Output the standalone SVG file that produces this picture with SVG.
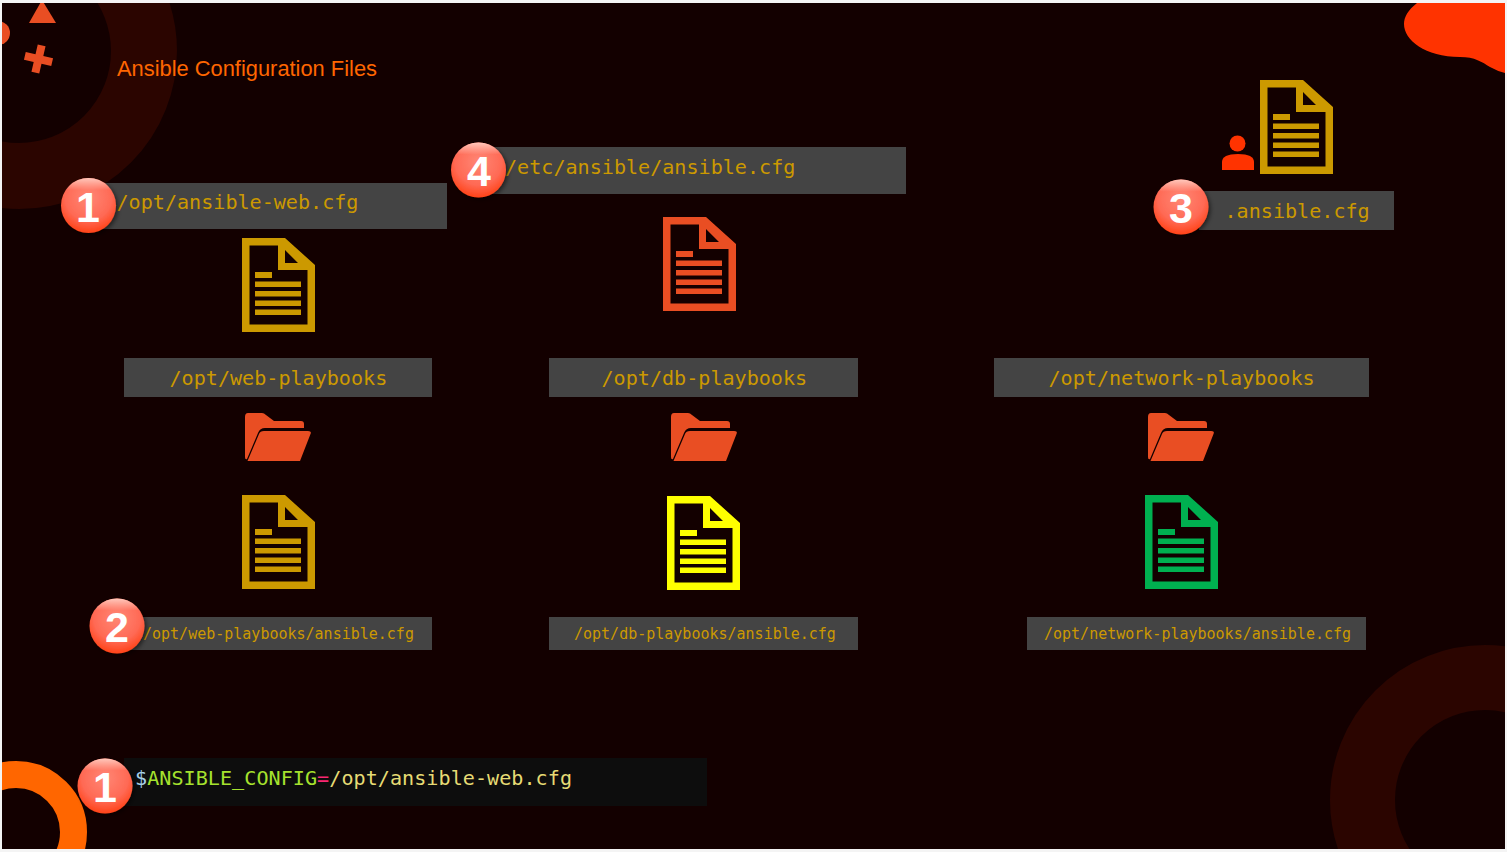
<svg xmlns="http://www.w3.org/2000/svg" width="1507" height="852" viewBox="0 0 1507 852">
<style>
.box{fill:#444444}
.m{font-family:"DejaVu Sans Mono","Liberation Mono",monospace;fill:#cc9900;font-size:20.100px}
.s{font-size:15px}
.num{font-family:"Liberation Sans",Arial,sans-serif;font-weight:700;font-size:43px;fill:#fff;text-anchor:middle}
.red{fill:#e94e23}
</style>
<defs>
<clipPath id="page"><rect x="2" y="3" width="1503" height="846"/></clipPath>
<radialGradient id="bg" cx="50%" cy="35%" r="70%">
<stop offset="0" stop-color="#ff8675"/><stop offset="0.6" stop-color="#ff6a55"/><stop offset="1" stop-color="#ff3a0a"/>
</radialGradient>
<linearGradient id="rim" x1="0" y1="0" x2="0" y2="1">
<stop offset="0" stop-color="#ffc8bc"/><stop offset="0.22" stop-color="#ffc8bc" stop-opacity="0"/>
</linearGradient>
<filter id="sh" x="-30%" y="-30%" width="170%" height="170%"><feDropShadow dx="2" dy="2" stdDeviation="2" flood-color="#000" flood-opacity="0.5"/></filter>
<g id="doc">
<path fill-rule="evenodd" d="M0,0H43L73,27V94H0ZM7.500,7.500V86.500H65.500V32H36V7.500ZM43,12V25H56Z"/>
<path d="M13,34H30V40H13ZM13,43.500H59V49H13ZM13,53H59V58.500H13ZM13,62.500H59V68H13ZM13,71.500H59V77H13Z"/>
</g>
<g id="folder">
<path d="M0,4Q0,0 3,0H17Q19,0 21,2L29,8H56Q59,8 59,11V15H20Q15,15 13,20L2,46Q0,47 0,44Z"/>
<path d="M2.500,48L14,21Q15,18 19,18H63Q67,18 65.500,21L55,48Z"/>
</g>
<g id="badge">
<circle r="27.500" fill="url(#bg)" filter="url(#sh)"/>
<circle r="27.500" fill="url(#rim)"/>
</g>
</defs>
<rect width="1507" height="852" fill="#f4f4f4"/>
<rect x="2" y="3" width="1503" height="846" fill="#130000"/>
<g id="decor" clip-path="url(#page)">
<circle cx="19" cy="51" r="125" fill="none" stroke="#2b0500" stroke-width="66"/>
<circle cx="1485" cy="800" r="122.500" fill="none" stroke="#2b0500" stroke-width="65"/>
<circle cx="16" cy="832" r="57.500" fill="none" stroke="#ff6600" stroke-width="27"/>
<polygon points="29,23 56,23 42,0" class="red"/>
<circle cx="-2" cy="33" r="12" class="red"/>
<path class="red" transform="translate(38.500,59) rotate(13)" d="M-4,-14H4V-4H14V4H4V14H-4V4H-14V-4H-4Z"/>
<path fill="#ff3300" d="M1417,3C1408,10 1404,17 1404,24C1404,40 1425,57 1460,57C1475,57 1482,62 1490,67Q1497,71 1505,73V3Z"/>
</g>
<text id="title" x="117" y="76" font-family="'Liberation Sans',Arial,sans-serif" font-size="22.500" fill="#ff6600" textLength="260" lengthAdjust="spacingAndGlyphs">Ansible Configuration Files</text>

<g id="cfg-web-box"><rect class="box" x="100" y="183" width="347" height="46"/><text class="m" x="116.500" y="209">/opt/ansible-web.cfg</text></g>
<g id="badge-1a"><use href="#badge" x="88.500" y="205.500"/><text class="num" x="88" y="221.500">1</text></g>
<use id="doc-web-a" href="#doc" x="242" y="238" fill="#cc9900"/>

<g id="cfg-etc-box"><rect class="box" x="490" y="147" width="416" height="47"/><text class="m" x="505" y="174">/etc/ansible/ansible.cfg</text></g>
<g id="badge-4"><use href="#badge" x="478.500" y="170"/><text class="num" x="479" y="186">4</text></g>
<use id="doc-etc" href="#doc" x="663" y="217" fill="#e94e23"/>

<g id="cfg-home-box"><rect class="box" x="1199" y="191" width="195" height="39"/><text class="m" x="1224.500" y="218">.ansible.cfg</text></g>
<g id="badge-3"><use href="#badge" x="1181" y="207"/><text class="num" x="1181" y="223">3</text></g>
<use id="doc-home" href="#doc" x="1260" y="80" fill="#cc9900"/>
<g id="user" fill="#ff3300"><circle cx="1237.500" cy="143.500" r="8"/><path d="M1222,170V162Q1222,154 1238,154Q1254,154 1254,162V170Z"/></g>

<g id="dir-web"><rect class="box" x="124" y="358" width="308" height="39"/><text class="m" x="169.500" y="385">/opt/web-playbooks</text></g>
<g id="dir-db"><rect class="box" x="549" y="358" width="309" height="39"/><text class="m" x="601.500" y="385">/opt/db-playbooks</text></g>
<g id="dir-net"><rect class="box" x="994" y="358" width="375" height="39"/><text class="m" x="1048.500" y="385">/opt/network-playbooks</text></g>

<use id="folder-web" class="red" href="#folder" x="245" y="413"/>
<use id="folder-db" class="red" href="#folder" x="671" y="413"/>
<use id="folder-net" class="red" href="#folder" x="1148" y="413"/>

<use id="doc-web-b" href="#doc" x="242" y="495" fill="#cc9900"/>
<use id="doc-db" href="#doc" x="667" y="496" fill="#ffff00"/>
<use id="doc-net" href="#doc" x="1145" y="495" fill="#00b050"/>

<g id="file-web"><rect class="box" x="130" y="617" width="302" height="33"/><text class="m s" x="143" y="638.500">/opt/web-playbooks/ansible.cfg</text></g>
<g id="badge-2"><use href="#badge" x="117" y="626"/><text class="num" x="117" y="642">2</text></g>
<g id="file-db"><rect class="box" x="549" y="617" width="309" height="33"/><text class="m s" x="574" y="638.500">/opt/db-playbooks/ansible.cfg</text></g>
<g id="file-net"><rect class="box" x="1027" y="617" width="339" height="33"/><text class="m s" x="1044" y="638.500">/opt/network-playbooks/ansible.cfg</text></g>

<g id="env"><rect x="124" y="758" width="583" height="48" fill="#0d0d0d"/>
<text class="m" x="135" y="785" textLength="437" style="fill:#e6db74"><tspan style="fill:#a6cfe8">$</tspan><tspan style="fill:#a6e22e">ANSIBLE_CONFIG</tspan><tspan style="fill:#f92672">=</tspan>/opt/ansible-web.cfg</text></g>
<g id="badge-1b"><use href="#badge" x="105" y="786"/><text class="num" x="105" y="802">1</text></g>
</svg>
